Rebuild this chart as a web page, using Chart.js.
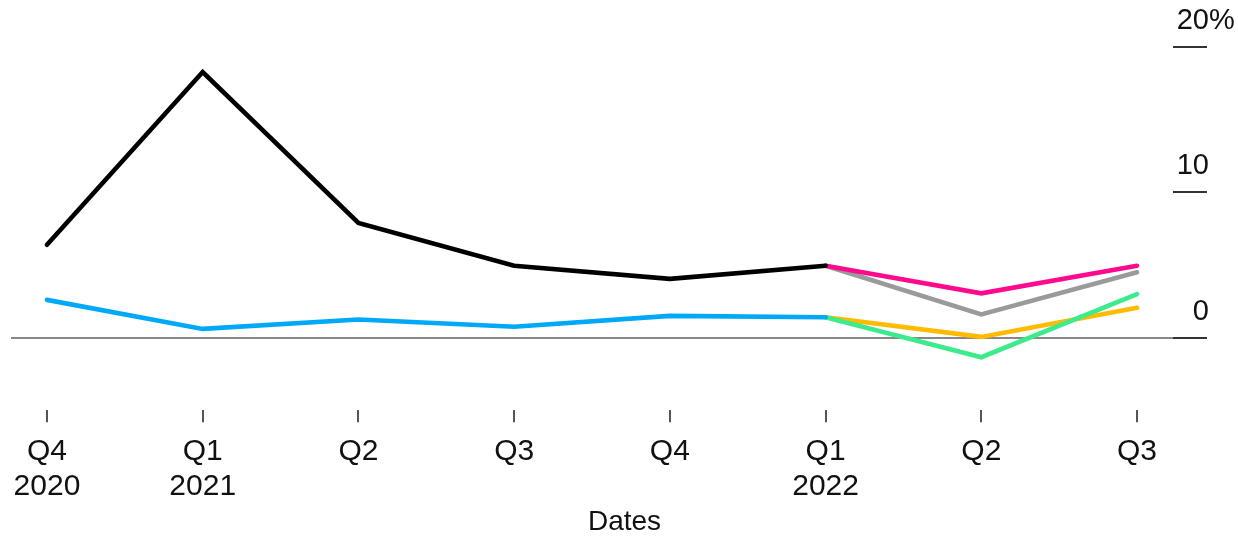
<!DOCTYPE html>
<html><head><meta charset="utf-8">
<script src="https://cdn.jsdelivr.net/npm/chart.js@4/dist/chart.umd.min.js"></script>
<style>html,body{margin:0;padding:0;background:#fff}canvas{display:block}</style>
</head><body>
<canvas id="c" width="1238" height="539"></canvas>
<script>
// ---- data ----
const quarters = ['Q4','Q1','Q2','Q3','Q4','Q1','Q2','Q3'];
const years    = ['2020','2021','','','','2022','',''];
const yTickValues = [0, 10, 20];
const seriesBlack  = [6.4, 18.3, 7.9, 4.95, 4.05, 4.95, null, null];
const seriesBlue   = [2.6, 0.6, 1.25, 0.75, 1.5, 1.4, null, null];
const seriesPink   = [null, null, null, null, null, 4.95, 3.05, 4.95];
const seriesGray   = [null, null, null, null, null, 4.95, 1.6, 4.5];
const seriesYellow = [null, null, null, null, null, 1.4, 0.05, 2.05];
const seriesGreen  = [null, null, null, null, null, 1.4, -1.35, 3.0];

const FONT = "'Liberation Sans', Arial, Helvetica, sans-serif";
Chart.defaults.font.family = FONT;
Chart.defaults.color = '#111111';

const toXY = arr => arr.map((v, i) => ({x: i, y: v}));
const mk = (arr, color) => ({
  data: toXY(arr), borderColor: color, borderWidth: 4.6, pointRadius: 0,
  borderCapStyle: 'round', fill: false, tension: 0, spanGaps: false
});

const Y_TICK_LEN = 34;
const Y_LABEL_PAD = 36;

const percentPlugin = {
  id: 'percentSuffix',
  afterDraw(chart) {
    const s = chart.scales.y;
    const ctx = chart.ctx;
    ctx.save();
    ctx.font = "29px " + FONT;
    ctx.fillStyle = '#111111';
    ctx.textAlign = 'left';
    ctx.textBaseline = 'middle';
    ctx.fillText('%', s.left + Y_LABEL_PAD, s.getPixelForValue(20) - 26);
    ctx.restore();
  }
};

new Chart(document.getElementById('c'), {
  type: 'line',
  data: {
    datasets: [
      mk(seriesBlack, '#000000'),
      mk(seriesBlue, '#00a9f7'),
      mk(seriesPink, '#ff0a8c'),
      mk(seriesGray, '#9a9a9a'),
      mk(seriesGreen, '#3deb8d'),
      mk(seriesYellow, '#ffbb00')
    ]
  },
  options: {
    responsive: false,
    animation: false,
    devicePixelRatio: 1,
    layout: { padding: { left: 11, right: 0, top: 47.3, bottom: 0 } },
    plugins: {
      legend: { display: false },
      tooltip: { enabled: false },
      title: {
        display: true, position: 'bottom', text: 'Dates',
        color: '#111111',
        font: { size: 28, weight: 'normal', lineHeight: 1.2 },
        padding: { top: 0, bottom: 0 }
      }
    },
    scales: {
      x: {
        type: 'linear',
        min: -0.231, max: 7.231,
        afterBuildTicks: s => { s.ticks = quarters.map((_, i) => ({ value: i })); },
        afterFit: s => { s.height = 95.2; },
        border: { display: false },
        grid: { drawOnChartArea: false, drawTicks: true, tickLength: 12, tickColor: '#555', lineWidth: 2 },
        ticks: {
          autoSkip: false, maxRotation: 0, padding: 12,
          font: { size: 30, lineHeight: 1.1667 },
          color: '#111111',
          callback: (v) => { const i = Math.round(v); return years[i] ? [quarters[i], years[i]] : quarters[i]; }
        }
      },
      y: {
        type: 'linear',
        position: 'right',
        min: -5, max: 20,
        afterBuildTicks: s => { s.ticks = yTickValues.map(v => ({ value: v })); },
        afterFit: s => { s.width = 65; s.paddingTop = 0; s.paddingBottom = 0; },
        border: { display: false },
        grid: {
          drawTicks: true, tickLength: Y_TICK_LEN, lineWidth: 2,
          color: c => (c.tick && c.tick.value === 0) ? '#888888' : 'rgba(0,0,0,0)',
          tickColor: '#333333'
        },
        ticks: {
          mirror: true, crossAlign: 'near', padding: Y_LABEL_PAD, labelOffset: -26,
          font: { size: 29 },
          color: '#111111',
          callback: v => String(v)
        }
      }
    }
  },
  plugins: [percentPlugin]
});
</script>
</body></html>
